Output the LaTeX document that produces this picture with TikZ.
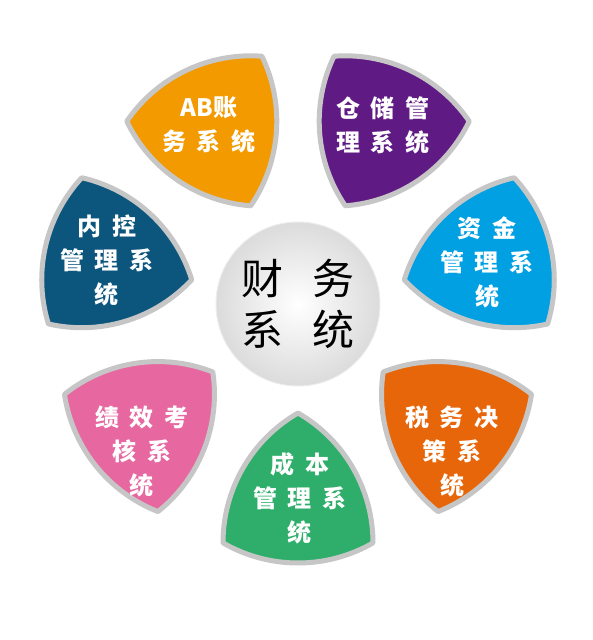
\documentclass[tikz,border=0pt]{standalone}
\usepackage{fontspec}
\newfontfamily\cjk{Noto Sans CJK SC}
\usetikzlibrary{positioning}
\definecolor{abcol}{RGB}{242,154,0}
\definecolor{ccol}{RGB}{96,26,132}
\definecolor{zjcol}{RGB}{0,160,226}
\definecolor{swcol}{RGB}{232,102,10}
\definecolor{cbcol}{RGB}{46,174,106}
\definecolor{jxcol}{RGB}{231,104,160}
\definecolor{nkcol}{RGB}{12,86,126}
\tikzset{petal/.style={draw=gray!45,line width=5pt,line join=round}}
\tikzstyle{lbl}=[text=white,align=center,inner sep=0pt,font=\cjk\bfseries\fontsize{24}{34}\selectfont]
\tikzstyle{hub}=[circle,minimum size=164pt,inner sep=0pt,draw=gray!15,line width=1pt,
  inner color=white,outer color=gray!28,align=center,font=\cjk\fontsize{42}{51}\selectfont]
\newcommand{\ls}[1][0.45em]{\hspace{#1}}

\begin{document}
\begin{tikzpicture}[x=1pt,y=1pt]
    \useasboundingbox (-298,-336) rectangle (294,304);
    % seven curved petals round the hub
    \foreach \ang/\col in {270/cbcol,321.43/swcol,12.86/zjcol,64.29/ccol,115.71/abcol,167.14/nkcol,218.57/jxcol} {
        \begin{scope}[rotate=\ang]
            \filldraw[petal,fill=\col] (109,0) arc[start angle=150,end angle=90,radius=150]
                arc[start angle=30,end angle=-30,radius=150]
                arc[start angle=270,end angle=210,radius=150] -- cycle;
        \end{scope}
    }
    \node[hub] (cw) at (0,0) {财\ls[0.7em]务\\系\ls[0.7em]统};
    \node[lbl] (ab) at (-89,179) {AB账\\务\ls 系\ls 统};
    \node[lbl] (cc) at (85,179) {仓\ls 储\ls 管\\理\ls 系\ls 统};
    \node[lbl] (zj) at (189,42) {资\ls 金\\管\ls 理\ls 系\\统};
    \node[lbl] (sw) at (154,-147) {税\ls 务\ls 决\\策\ls 系\\统};
    \node[lbl] (cb) at (2,-194) {成\ls 本\\管\ls 理\ls 系\\统};
    \node[lbl] (jx) at (-156,-147) {绩\ls 效\ls 考\\核\ls 系\\统};
    \node[lbl] (nk) at (-191,44) {内\ls 控\\管\ls 理\ls 系\\统};
\end{tikzpicture}
\end{document}
